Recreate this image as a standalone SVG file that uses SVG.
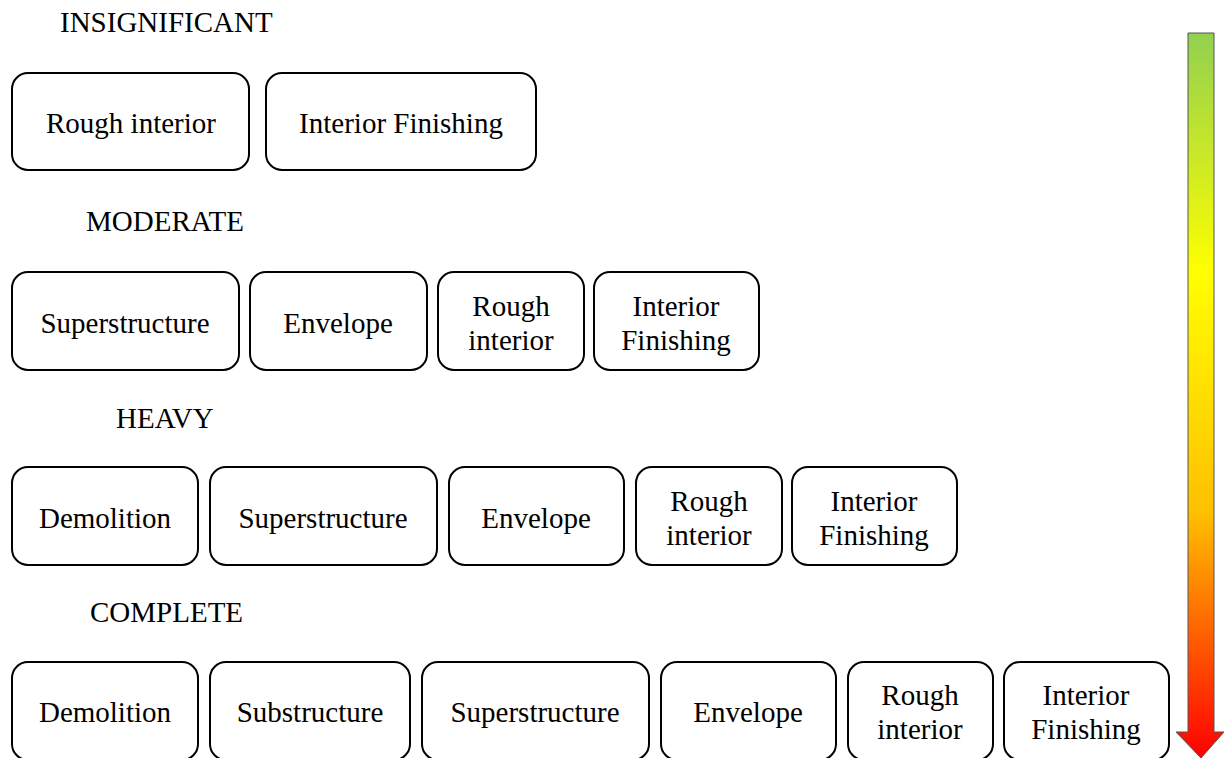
<svg xmlns="http://www.w3.org/2000/svg" width="1224" height="758" viewBox="0 0 1224 758">
<defs>
<linearGradient id="g" x1="0" y1="0" x2="0" y2="1">
<stop offset="0" stop-color="#92D050"/>
<stop offset="0.33" stop-color="#FFFF00"/>
<stop offset="0.66" stop-color="#FFC000"/>
<stop offset="1" stop-color="#FF0000"/>
</linearGradient>
</defs>
<style>
.b{fill:#fff;stroke:#000;stroke-width:2}
.t{font-size:29px;fill:#000;text-anchor:middle}
.h{font-size:29px;fill:#000}
</style>
<rect width="1224" height="758" fill="#fff"/>
<g font-family="Liberation Serif, Times New Roman, DejaVu Serif, serif">
<g id="labels">
<text class="h" x="60" y="32">INSIGNIFICANT</text>
<text class="h" x="86" y="231">MODERATE</text>
<text class="h" x="116" y="428">HEAVY</text>
<text class="h" x="90" y="622">COMPLETE</text>
</g>
<g id="arrow">
<path d="M1188,33 H1214 V732 H1224 L1201,758 L1176,732 H1188 Z" fill="url(#g)" stroke="#555" stroke-width="1"/>
</g>
<g id="connectors"></g>
<g id="r1a"><rect class="b" x="12" y="73" width="237" height="97" rx="16"/><text class="t" x="131" y="133">Rough interior</text></g>
<g id="r1b"><rect class="b" x="266" y="73" width="270" height="97" rx="16"/><text class="t" x="401" y="133">Interior Finishing</text></g>

<g id="r2a"><rect class="b" x="12" y="272" width="227" height="98" rx="16"/><text class="t" x="125" y="333">Superstructure</text></g>
<g id="r2b"><rect class="b" x="250" y="272" width="177" height="98" rx="16"/><text class="t" x="338" y="333">Envelope</text></g>
<g id="r2c"><rect class="b" x="438" y="272" width="146" height="98" rx="16"/><text class="t" x="511" y="316">Rough</text><text class="t" x="511" y="350">interior</text></g>
<g id="r2d"><rect class="b" x="594" y="272" width="165" height="98" rx="16"/><text class="t" x="676" y="316">Interior</text><text class="t" x="676" y="350">Finishing</text></g>

<g id="r3a"><rect class="b" x="12" y="467" width="186" height="98" rx="16"/><text class="t" x="105" y="528">Demolition</text></g>
<g id="r3b"><rect class="b" x="210" y="467" width="227" height="98" rx="16"/><text class="t" x="323" y="528">Superstructure</text></g>
<g id="r3c"><rect class="b" x="449" y="467" width="175" height="98" rx="16"/><text class="t" x="536" y="528">Envelope</text></g>
<g id="r3d"><rect class="b" x="636" y="467" width="146" height="98" rx="16"/><text class="t" x="709" y="511">Rough</text><text class="t" x="709" y="545">interior</text></g>
<g id="r3e"><rect class="b" x="792" y="467" width="165" height="98" rx="16"/><text class="t" x="874" y="511">Interior</text><text class="t" x="874" y="545">Finishing</text></g>

<g id="r4a"><rect class="b" x="12" y="662" width="186" height="98" rx="16"/><text class="t" x="105" y="722">Demolition</text></g>
<g id="r4b"><rect class="b" x="210" y="662" width="200" height="98" rx="16"/><text class="t" x="310" y="722">Substructure</text></g>
<g id="r4c"><rect class="b" x="422" y="662" width="227" height="98" rx="16"/><text class="t" x="535" y="722">Superstructure</text></g>
<g id="r4d"><rect class="b" x="661" y="662" width="175" height="98" rx="16"/><text class="t" x="748" y="722">Envelope</text></g>
<g id="r4e"><rect class="b" x="848" y="662" width="145" height="98" rx="16"/><text class="t" x="920" y="705">Rough</text><text class="t" x="920" y="739">interior</text></g>
<g id="r4f"><rect class="b" x="1004" y="662" width="165" height="98" rx="16"/><text class="t" x="1086" y="705">Interior</text><text class="t" x="1086" y="739">Finishing</text></g>
</g>
</svg>
